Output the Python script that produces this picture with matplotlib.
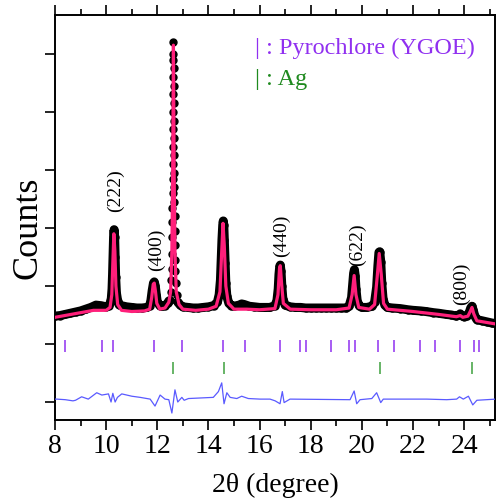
import numpy as np
import matplotlib
matplotlib.use('Agg')
import matplotlib.pyplot as plt

plt.rcParams['font.family'] = ['Liberation Serif', 'DejaVu Serif']

# observed pattern (2theta, counts in arbitrary units)
x_obs = [8.0, 8.2, 8.4, 8.6, 8.8, 9.0, 9.2, 9.4, 9.6, 9.8, 10.0, 10.1, 10.15,
         10.2, 10.23, 10.25, 10.27, 10.29, 10.31, 10.33, 10.35, 10.37, 10.40,
         10.45, 10.5, 10.6, 10.8, 11.0, 11.2, 11.4, 11.6, 11.7, 11.75, 11.8,
         11.85, 11.88, 11.92, 11.96, 12.0, 12.1, 12.2, 12.3, 12.4, 12.45,
         12.50, 12.53, 12.55, 12.56, 12.57, 12.58, 12.585, 12.59, 12.595,
         12.60, 12.605, 12.61, 12.615, 12.62, 12.622, 12.625, 12.628, 12.63,
         12.632, 12.635, 12.638, 12.64, 12.645, 12.65, 12.655, 12.66, 12.665,
         12.67, 12.675, 12.68, 12.69, 12.70, 12.71, 12.73, 12.76, 12.80,
         12.9, 13.0, 13.2, 13.4, 13.6, 13.8, 14.0, 14.2, 14.35, 14.42, 14.47,
         14.50, 14.53, 14.56, 14.58, 14.60, 14.62, 14.65, 14.68, 14.72, 14.8,
         14.9, 15.0, 15.2, 15.3, 15.4, 15.6, 15.8, 16.0, 16.2, 16.4, 16.6,
         16.68, 16.73, 16.76, 16.79, 16.81, 16.84, 16.87, 16.91, 17.0, 17.2,
         17.4, 17.6, 17.8, 18.0, 18.2, 18.4, 18.6, 18.8, 19.0, 19.2, 19.4,
         19.5, 19.6, 19.65, 19.68, 19.71, 19.74, 19.77, 19.82, 19.9, 20.0,
         20.2, 20.4, 20.5, 20.58, 20.63, 20.67, 20.70, 20.74, 20.78, 20.83,
         20.9, 21.0, 21.2, 21.5, 21.8, 22.0, 22.3, 22.5, 22.8, 23.0, 23.3,
         23.5, 23.7, 23.8, 23.85, 23.9, 24.0, 24.1, 24.2, 24.26, 24.31, 24.36,
         24.42, 24.5, 24.7, 24.9, 25.1, 25.3]
y_obs = [1.48, 1.49, 1.51, 1.53, 1.55, 1.57, 1.60, 1.63, 1.67, 1.66, 1.64,
         1.66, 1.70, 1.78, 1.95, 2.2, 2.55, 2.85, 2.97, 2.85, 2.5, 2.15, 1.88,
         1.74, 1.68, 1.66, 1.64, 1.63, 1.62, 1.62, 1.63, 1.66, 1.75, 1.92,
         2.05, 2.07, 2.0, 1.85, 1.72, 1.66, 1.65, 1.66, 1.70, 1.74,
         1.75, 1.9, 2.1, 2.3, 2.55, 2.85, 3.1, 3.35, 3.6, 3.85, 4.1, 4.4, 4.7,
         5.0, 5.3, 5.6, 5.9, 6.2, 6.0, 5.75, 5.45, 5.15, 4.85, 4.55, 4.25,
         3.95, 3.7, 3.45, 3.2, 2.95, 2.7, 2.45, 2.25, 2.05, 1.85, 1.72,
         1.67, 1.64, 1.63, 1.62, 1.62, 1.63, 1.64, 1.66, 1.72, 1.85, 2.1,
         2.45, 2.8, 3.05, 3.12, 3.05, 2.8, 2.4, 2.05, 1.82, 1.70,
         1.66, 1.65, 1.67, 1.69, 1.68, 1.65, 1.64, 1.63, 1.63, 1.63, 1.66,
         1.75, 1.95, 2.2, 2.34, 2.36, 2.25, 2.0, 1.78, 1.67, 1.64,
         1.63, 1.63, 1.62, 1.62, 1.62, 1.62, 1.62, 1.62, 1.62, 1.62, 1.62,
         1.65, 1.80, 2.05, 2.22, 2.28, 2.18, 1.95, 1.74, 1.66, 1.63,
         1.63, 1.65, 1.72, 1.98, 2.35, 2.58, 2.59, 2.42, 2.05, 1.78,
         1.67, 1.63, 1.62, 1.61, 1.59, 1.58, 1.57, 1.56, 1.54, 1.53, 1.51,
         1.50, 1.48, 1.50, 1.52, 1.49, 1.47, 1.48, 1.54, 1.62, 1.65, 1.58,
         1.48, 1.42, 1.40, 1.38, 1.36, 1.35]

# calculated pattern
x_calc = [8.0, 8.5, 9.0, 9.5, 10.0, 10.15, 10.22, 10.26, 10.30, 10.34, 10.38,
          10.45, 10.6, 11.0, 11.5, 11.7, 11.78, 11.84, 11.88, 11.93, 11.98,
          12.1, 12.3, 12.45, 12.52, 12.57, 12.60, 12.63, 12.66, 12.69, 12.74,
          12.85, 13.0, 13.5, 14.0, 14.3, 14.45, 14.52, 14.57, 14.62, 14.68,
          14.78, 15.0, 15.5, 16.0, 16.6, 16.72, 16.78, 16.81, 16.86, 16.93,
          17.2, 18.0, 19.0, 19.5, 19.62, 19.70, 19.77, 19.88, 20.3, 20.5,
          20.6, 20.68, 20.76, 20.85, 21.0, 22.0, 23.0, 23.7, 23.85, 23.95,
          24.15, 24.25, 24.31, 24.38, 24.5, 25.3]
y_calc = [1.46, 1.50, 1.54, 1.58, 1.58, 1.63, 1.85, 2.4, 2.9, 2.6, 2.0,
          1.68, 1.58, 1.56, 1.57, 1.60, 1.80, 2.03, 2.05, 1.90, 1.70,
          1.60, 1.62, 1.72, 1.9, 2.6, 3.9, 6.15, 3.9, 2.6, 1.9,
          1.68, 1.60, 1.58, 1.60, 1.65, 1.9, 2.6, 3.08, 2.7, 2.0,
          1.70, 1.60, 1.60, 1.59, 1.61, 1.85, 2.3, 2.35, 2.05, 1.70,
          1.60, 1.59, 1.59, 1.62, 1.85, 2.18, 1.85, 1.63, 1.60, 1.68,
          2.15, 2.56, 2.2, 1.70, 1.60, 1.56, 1.51, 1.47, 1.49, 1.46,
          1.48, 1.57, 1.63, 1.52, 1.40, 1.34]

# difference curve
x_diff = [8.0, 8.07, 8.4, 8.7, 8.8, 9.04, 9.3, 9.63, 9.83, 10.09, 10.19, 10.26,
          10.35, 10.44, 10.61, 11.0, 11.33, 11.72, 11.91, 12.11, 12.30, 12.45,
          12.57, 12.69, 12.80, 12.96, 13.05, 13.22, 14.19, 14.39, 14.52,
          14.61, 14.72, 14.85, 15.11, 15.30, 15.56, 16.02, 16.41, 16.61,
          16.80, 16.89, 16.96, 17.19, 19.54, 19.70, 19.80, 19.93, 20.39,
          20.58, 20.74, 20.84, 21.23, 22.54, 23.32, 23.71, 23.82, 23.97,
          24.17, 24.34, 24.50, 25.25]
y_diff = [0.05, 0.05, 0.04, 0.02, 0.03, 0.09, 0.05, 0.16, 0.12, 0.14, 0.0,
          0.15, 0.0, 0.08, 0.14, 0.10, 0.08, 0.05, -0.07, 0.12, 0.05, 0.04,
          -0.19, 0.21, 0.0, 0.08, 0.03, 0.06, 0.08, 0.18, 0.33,
          -0.03, 0.16, 0.08, 0.06, 0.10, 0.06, 0.05, 0.05, 0.02,
          -0.03, 0.18, -0.01, 0.05, 0.04, 0.19, -0.03, 0.04, 0.06,
          0.16, -0.01, 0.05, 0.05, 0.05, 0.04, 0.05, 0.09, 0.05,
          0.10, -0.05, 0.03, 0.05]

# Bragg positions
bragg_ygoe = [8.39, 9.85, 10.28, 11.88, 12.96, 14.56, 15.43, 16.80, 17.59,
              17.82, 18.80, 19.50, 19.73, 20.63, 21.26, 22.28, 22.88, 23.85,
              24.39, 24.58]
bragg_ag = [12.63, 14.60, 20.70, 24.30]

hkl_labels = ['(222)', '(400)', '(440)', '(622)', '(800)']
hkl_x = [10.35, 11.95, 16.86, 19.83, 23.88]
hkl_y = [3.64, 2.62, 2.86, 2.72, 2.04]

purple = '#9030f0'
green = '#1f8a1f'

fig = plt.figure(figsize=(4.96, 5.0), dpi=100)
ax = fig.add_axes([0.111, 0.16, 0.887, 0.81])

x_obs = np.array(x_obs)
y_obs = np.array(y_obs)
# continuous band, left open on the steep sides of the strongest peak
band = np.where((x_obs > 12.52) & (x_obs < 12.77), np.nan, y_obs)
ax.plot(x_obs, band, color='black', lw=6.5, solid_capstyle='round', zorder=2)
ax.plot(x_obs, y_obs, 'o', color='black', ms=5, zorder=2)
ax.plot(x_calc, y_calc, color='#ff1f7a', lw=2.3, zorder=3)
ax.plot(x_diff, y_diff, color='#5a5aff', lw=0.9, zorder=3)

ax.vlines(bragg_ygoe, 0.87, 1.07, color=purple, lw=1.1)
ax.vlines(bragg_ag, 0.48, 0.69, color='#3da03d', lw=1.1)

for lab, hx, hy in zip(hkl_labels, hkl_x, hkl_y):
    ax.text(hx, hy, lab, rotation=90, ha='center', va='center', fontsize=14)

ax.text(15.82, 6.09, '| : Pyrochlore (YGOE)', color=purple, fontsize=17.5,
        ha='left', va='center')
ax.text(15.82, 5.55, '| : Ag', color=green, fontsize=17.5, ha='left',
        va='center')

ax.set_xlim(8, 25.21)
ax.set_ylim(-0.31, 6.67)
ax.set_xticks(np.arange(8, 25, 2))
ax.set_xticks(np.arange(8, 26, 1), minor=True)
ax.set_yticks(np.arange(0, 7, 1))
ax.set_yticklabels([])
ax.tick_params(axis='x', which='major', direction='out', length=7, width=1.2,
               labelsize=20, top=True, pad=3)
ax.tick_params(axis='x', which='minor', direction='out', length=4, width=1.2,
               top=True)
ax.tick_params(axis='y', which='major', direction='out', length=7, width=1.2)
for s in ax.spines.values():
    s.set_linewidth(1.4)

ax.set_xlabel('2θ (degree)', fontsize=20, labelpad=10)
ax.set_ylabel('Counts', fontsize=26)
ax.yaxis.set_label_coords(-0.025, 0.475)

fig.savefig('out.png', dpi=100)
